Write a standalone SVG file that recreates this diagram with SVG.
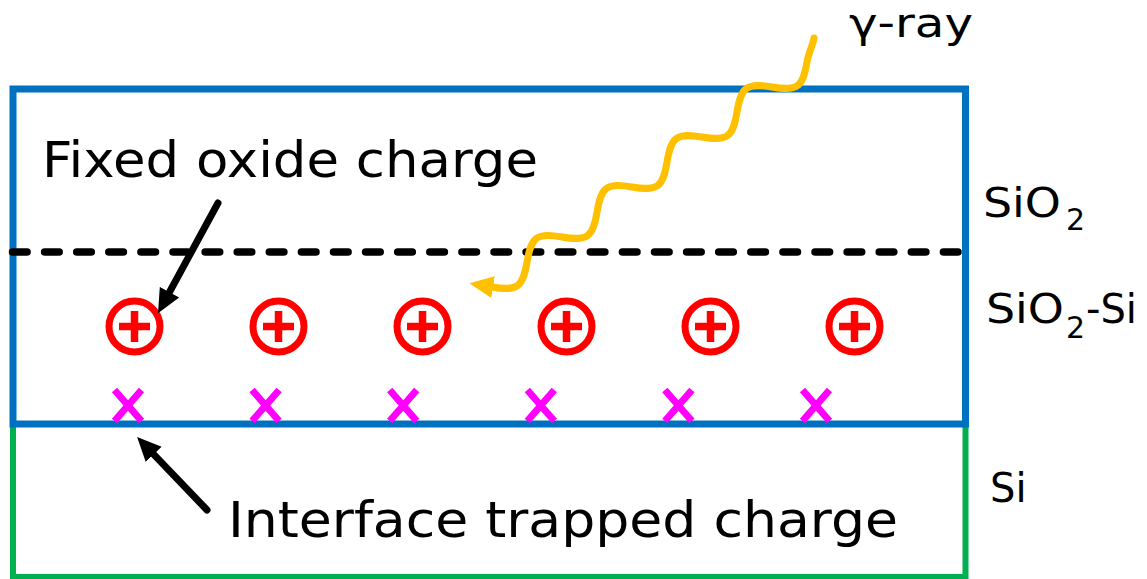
<svg xmlns="http://www.w3.org/2000/svg" width="1147" height="579" viewBox="0 0 1147 579">
<defs>
<style>
.lbl{font-family:"DejaVu Sans","Liberation Sans",sans-serif;fill:#000}
.big{font-size:50px}
.side{font-size:40px}
.sub{font-size:30px}
.ring{fill:none;stroke:#FF0000;stroke-width:7}
.plus{fill:none;stroke:#FF0000;stroke-width:7.5}
.cross{fill:none;stroke:#FF00FF;stroke-width:7}
.ptr{stroke:#000;stroke-width:7;stroke-linecap:round;fill:none}
</style>
<marker id="ah" markerUnits="userSpaceOnUse" markerWidth="24" markerHeight="24" viewBox="0 0 24 24" refX="1" refY="12" orient="auto"><path d="M0,1 L24,12 L0,23 Z" fill="#000"/></marker>
<marker id="ahY" markerUnits="userSpaceOnUse" markerWidth="24" markerHeight="24" viewBox="0 0 24 24" refX="1" refY="12" orient="auto"><path d="M0,1 L24,12 L0,23 Z" fill="#FFC000"/></marker>
<g id="posq"><circle r="25.5" class="ring"/><path d="M-15.5,0 H15.5 M0,-15.5 V15.5" class="plus"/></g>
<g id="trapx"><path d="M-13.5,-15.5 L13.5,15.5 M13.5,-15.5 L-13.5,15.5" class="cross"/></g>
</defs>
<rect width="1147" height="579" fill="#fff"/>

<g id="si-substrate">
<path d="M13,424 V577 H965.5 V424" fill="none" stroke="#00B050" stroke-width="6"/>
</g>
<g id="sio2-layer">
<rect x="13" y="89" width="952.5" height="335" fill="none" stroke="#0070C0" stroke-width="7"/>
</g>
<g id="interface-boundary">
<line x1="12.5" y1="252" x2="962" y2="252" stroke="#000" stroke-width="7.5" stroke-dasharray="14.6 17.5" stroke-linecap="round"/>
</g>

<g id="fixed-charges">
<use href="#posq" x="134.5" y="326.5"/>
<use href="#posq" x="278.5" y="326.5"/>
<use href="#posq" x="422.5" y="326.5"/>
<use href="#posq" x="566.5" y="326.5"/>
<use href="#posq" x="710.5" y="326.5"/>
<use href="#posq" x="854.5" y="326.5"/>
</g>
<g id="trapped-charges">
<use href="#trapx" x="128" y="405.5"/>
<use href="#trapx" x="265.6" y="405.5"/>
<use href="#trapx" x="403.2" y="405.5"/>
<use href="#trapx" x="540.8" y="405.5"/>
<use href="#trapx" x="678.4" y="405.5"/>
<use href="#trapx" x="816" y="405.5"/>
</g>

<g id="label-fixed"><text class="lbl big" x="42" y="177" textLength="496" lengthAdjust="spacingAndGlyphs">Fixed oxide charge</text></g>
<g id="label-interface"><text class="lbl big" x="228" y="537" textLength="670" lengthAdjust="spacingAndGlyphs">Interface trapped charge</text></g>
<g id="label-gamma"><text class="lbl side" x="849" y="37" textLength="124" lengthAdjust="spacingAndGlyphs">γ-ray</text></g>
<g id="label-sio2"><text class="lbl side" x="983" y="217" textLength="78" lengthAdjust="spacingAndGlyphs">SiO</text><text class="lbl sub" x="1066" y="230">2</text></g>
<g id="label-sio2-si"><text class="lbl side" x="986" y="323" textLength="78" lengthAdjust="spacingAndGlyphs">SiO</text><text class="lbl sub" x="1066" y="338">2</text><text class="lbl side" x="1086" y="323">-Si</text></g>
<g id="label-si"><text class="lbl side" x="990" y="502">Si</text></g>

<g id="connectors">
<line class="ptr" x1="218" y1="203" x2="169" y2="293" marker-end="url(#ah)"/>
<line class="ptr" x1="207" y1="510" x2="153" y2="453.6" marker-end="url(#ah)"/>
<path d="M814,38 C813,45 808.65,52.02 806.98,62.02 C805.31,72.02 803.28,81.5 797.45,85.66 C791.62,89.83 781.99,88.68 771.99,87.01 C761.99,85.34 752.36,84.2 746.53,88.36 C740.7,92.53 738.67,102 737,112 C735.33,122 733.3,131.48 727.47,135.64 C721.64,139.81 712.01,138.66 702.01,136.99 C692.01,135.32 682.38,134.18 676.55,138.34 C670.72,142.51 668.69,151.98 667.02,161.98 C665.35,171.98 663.32,181.46 657.49,185.62 C651.66,189.79 642.03,188.64 632.03,186.97 C622.03,185.3 612.4,184.16 606.57,188.32 C600.74,192.49 598.71,201.96 597.04,211.96 C595.37,221.96 593.34,231.44 587.51,235.6 C581.68,239.77 572.05,238.62 562.05,236.95 C552.05,235.28 542.42,234.14 536.59,238.3 C530.76,242.47 528.73,251.94 527.06,261.94 C525.39,271.94 523.36,281.42 517.53,285.58 C511.7,289.75 502.07,288.6 492.07,286.93" fill="none" stroke="#FFC000" stroke-width="7" stroke-linecap="round" stroke-linejoin="round" marker-end="url(#ahY)"/>
</g>
</svg>
